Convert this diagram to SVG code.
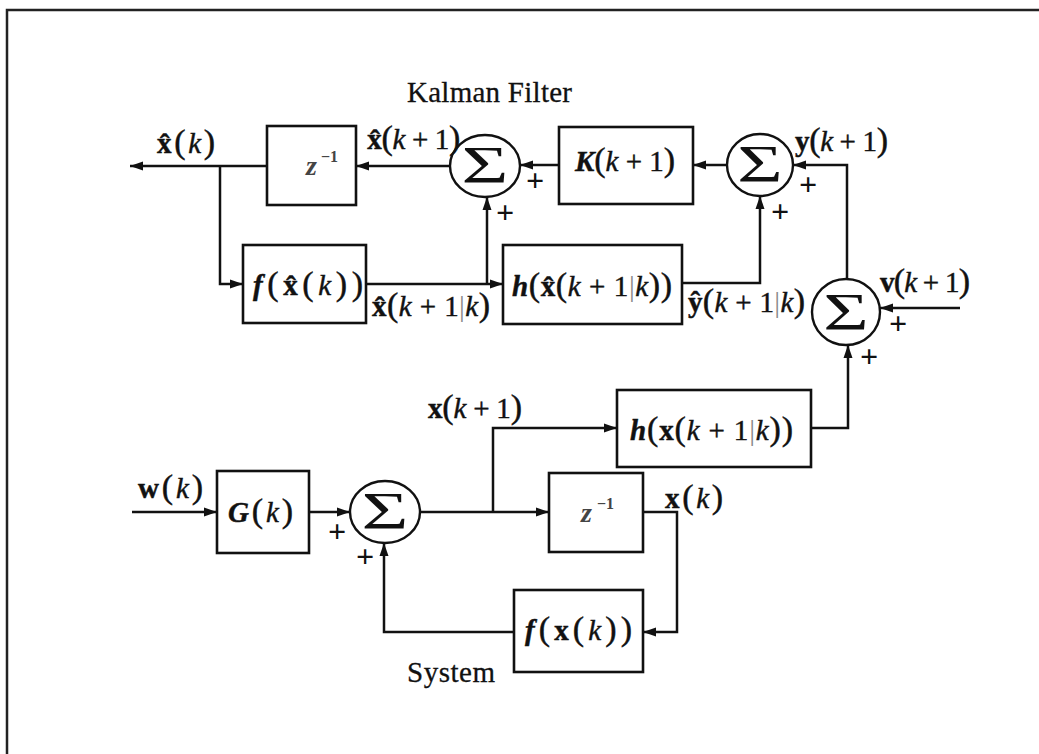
<svg xmlns="http://www.w3.org/2000/svg" width="1039" height="754" viewBox="0 0 1039 754">
<style>
.frame{fill:none;stroke:#222;stroke-width:2.5}
.box{fill:#fff;stroke:#111;stroke-width:2.6}
.sum{fill:#fff;stroke:#111;stroke-width:2.4}
.wire{fill:none;stroke:#111;stroke-width:2.5}
.m{font-family:"Liberation Serif","Times New Roman",serif;font-size:29px;fill:#111;stroke:#111;stroke-width:0.45}
.b{font-weight:bold}
.i{font-style:italic}
.bi{font-weight:bold;font-style:italic}
.p{font-size:34px}
.t{font-family:"Liberation Serif","Times New Roman",serif;font-size:29px;fill:#111;stroke:#111;stroke-width:0.3}
.sig{font-family:"Liberation Serif","Times New Roman",serif;font-size:52px;fill:#111;text-anchor:middle}
.pl{font-family:"Liberation Serif","Times New Roman",serif;font-size:32px;font-weight:bold;fill:#111;text-anchor:middle;dominant-baseline:central}
.z{font-family:"Liberation Serif","Times New Roman",serif;font-size:28px;font-style:italic;font-weight:bold;fill:#444}
.zs{font-family:"Liberation Serif","Times New Roman",serif;font-size:16px;font-weight:bold;fill:#444}
</style>
<defs>
<marker id="ah" markerUnits="userSpaceOnUse" markerWidth="14" markerHeight="10" refX="13" refY="5" orient="auto">
<path d="M0,0.5 L13,5 L0,9.5 z" fill="#111"/>
</marker>
</defs>

<path class="frame" d="M7,754 L7,10 L1039,10"/>

<text class="t" x="407" y="102" textLength="165">Kalman Filter</text>
<text class="t" x="407" y="682" textLength="88">System</text>

<g id="connectors">
<line class="wire" x1="450" y1="166" x2="356" y2="166" marker-end="url(#ah)"/>
<line class="wire" x1="267" y1="166" x2="130" y2="166" marker-end="url(#ah)"/>
<polyline class="wire" points="220,166 220,284 243,284" marker-end="url(#ah)"/>
<line class="wire" x1="366" y1="284" x2="503" y2="284" marker-end="url(#ah)"/>
<polyline class="wire" points="487,284 487,197" marker-end="url(#ah)"/>
<polyline class="wire" points="682,283 760,283 760,196" marker-end="url(#ah)"/>
<line class="wire" x1="559" y1="165" x2="520" y2="165" marker-end="url(#ah)"/>
<line class="wire" x1="727" y1="165" x2="693" y2="165" marker-end="url(#ah)"/>
<polyline class="wire" points="847,279 847,165 793,165" marker-end="url(#ah)"/>
<line class="wire" x1="960" y1="308" x2="880" y2="308" marker-end="url(#ah)"/>
<polyline class="wire" points="811,428 848,428 848,345" marker-end="url(#ah)"/>
<line class="wire" x1="132" y1="512" x2="217" y2="512" marker-end="url(#ah)"/>
<line class="wire" x1="309" y1="512" x2="350" y2="512" marker-end="url(#ah)"/>
<line class="wire" x1="419" y1="512" x2="549" y2="512" marker-end="url(#ah)"/>
<polyline class="wire" points="493,512 493,428 617,428" marker-end="url(#ah)"/>
<polyline class="wire" points="643,512 677,512 677,632 643,632" marker-end="url(#ah)"/>
<polyline class="wire" points="514,632 384,632 384,543" marker-end="url(#ah)"/>
</g>

<g id="z1"><rect class="box" x="267" y="126" width="89" height="79"/>
<text class="z" x="306" y="175">z</text><text class="zs" x="321" y="162">−1</text></g>
<g id="f1"><rect class="box" x="243" y="245" width="123" height="78"/>
<text class="m" x="253" y="295" textLength="110"><tspan class="bi">f</tspan><tspan class="p">(</tspan><tspan class="b">x̂</tspan><tspan class="p">(</tspan><tspan class="i">k</tspan><tspan class="p">))</tspan></text></g>
<g id="h1"><rect class="box" x="503" y="245" width="179" height="79"/>
<text class="m" x="512" y="296" textLength="160"><tspan class="bi">h</tspan><tspan class="p">(</tspan><tspan class="b">x̂</tspan><tspan class="p">(</tspan><tspan class="i">k</tspan> + 1<tspan fill="#888" stroke="none">|</tspan><tspan class="i">k</tspan><tspan class="p">))</tspan></text></g>
<g id="K"><rect class="box" x="559" y="127" width="134" height="77"/>
<text class="m" x="575" y="171" textLength="100"><tspan class="bi">K</tspan><tspan class="p">(</tspan><tspan class="i">k</tspan> + 1<tspan class="p">)</tspan></text></g>
<g id="hx"><rect class="box" x="617" y="390" width="194" height="77"/>
<text class="m" x="630" y="440" textLength="163"><tspan class="bi">h</tspan><tspan class="p">(</tspan><tspan class="b">x</tspan><tspan class="p">(</tspan><tspan class="i">k</tspan> + 1<tspan fill="#888" stroke="none">|</tspan><tspan class="i">k</tspan><tspan class="p">))</tspan></text></g>
<g id="z2"><rect class="box" x="549" y="473" width="94" height="79"/>
<text class="z" x="581" y="522">z</text><text class="zs" x="597" y="509">−1</text></g>
<g id="fx"><rect class="box" x="514" y="590" width="129" height="82"/>
<text class="m" x="525" y="640" textLength="107"><tspan class="bi">f</tspan><tspan class="p">(</tspan><tspan class="b">x</tspan><tspan class="p">(</tspan><tspan class="i">k</tspan><tspan class="p">))</tspan></text></g>
<g id="G"><rect class="box" x="217" y="471" width="92" height="82"/>
<text class="m" x="228" y="522" textLength="65"><tspan class="bi">G</tspan><tspan class="p">(</tspan><tspan class="i">k</tspan><tspan class="p">)</tspan></text></g>

<g id="s1"><ellipse class="sum" cx="485" cy="166" rx="35" ry="31"/><text class="sig" transform="translate(485,166) scale(1.55,1)" x="0" y="17">Σ</text>
<text class="pl" x="535" y="180">+</text><text class="pl" x="505" y="212">+</text></g>
<g id="s2"><ellipse class="sum" cx="760" cy="165" rx="33" ry="31"/><text class="sig" transform="translate(760,165) scale(1.5,1)" x="0" y="17">Σ</text>
<text class="pl" x="808" y="184">+</text><text class="pl" x="780" y="211">+</text></g>
<g id="s3"><ellipse class="sum" cx="846" cy="312" rx="34" ry="33"/><text class="sig" transform="translate(846,313) scale(1.5,1)" x="0" y="17">Σ</text>
<text class="pl" x="898" y="323">+</text><text class="pl" x="869" y="356">+</text></g>
<g id="s4"><ellipse class="sum" cx="385" cy="512" rx="35" ry="31"/><text class="sig" transform="translate(385,512) scale(1.55,1)" x="0" y="17">Σ</text>
<text class="pl" x="337" y="531">+</text><text class="pl" x="365" y="556">+</text></g>

<g id="labels">
<text class="m" x="157" y="153" textLength="58"><tspan class="b">x̂</tspan><tspan class="p">(</tspan><tspan class="i">k</tspan><tspan class="p">)</tspan></text>
<text class="m" x="367" y="149" textLength="93"><tspan class="b">x̂</tspan><tspan class="p">(</tspan><tspan class="i">k</tspan> + 1<tspan class="p">)</tspan></text>
<text class="m" x="372" y="316" textLength="118"><tspan class="b">x̂</tspan><tspan class="p">(</tspan><tspan class="i">k</tspan> + 1<tspan fill="#888" stroke="none">|</tspan><tspan class="i">k</tspan><tspan class="p">)</tspan></text>
<text class="m" x="688" y="312" textLength="117"><tspan class="b">ŷ</tspan><tspan class="p">(</tspan><tspan class="i">k</tspan> + 1<tspan fill="#888" stroke="none">|</tspan><tspan class="i">k</tspan><tspan class="p">)</tspan></text>
<text class="m" x="795" y="151" textLength="93"><tspan class="b">y</tspan><tspan class="p">(</tspan><tspan class="i">k</tspan> + 1<tspan class="p">)</tspan></text>
<text class="m" x="880" y="292" textLength="90"><tspan class="b">v</tspan><tspan class="p">(</tspan><tspan class="i">k</tspan> + 1<tspan class="p">)</tspan></text>
<text class="m" x="428" y="418" textLength="94"><tspan class="b">x</tspan><tspan class="p">(</tspan><tspan class="i">k</tspan> + 1<tspan class="p">)</tspan></text>
<text class="m" x="138" y="498" textLength="65"><tspan class="b">w</tspan><tspan class="p">(</tspan><tspan class="i">k</tspan><tspan class="p">)</tspan></text>
<text class="m" x="665" y="508" textLength="58"><tspan class="b">x</tspan><tspan class="p">(</tspan><tspan class="i">k</tspan><tspan class="p">)</tspan></text>
</g>
</svg>
